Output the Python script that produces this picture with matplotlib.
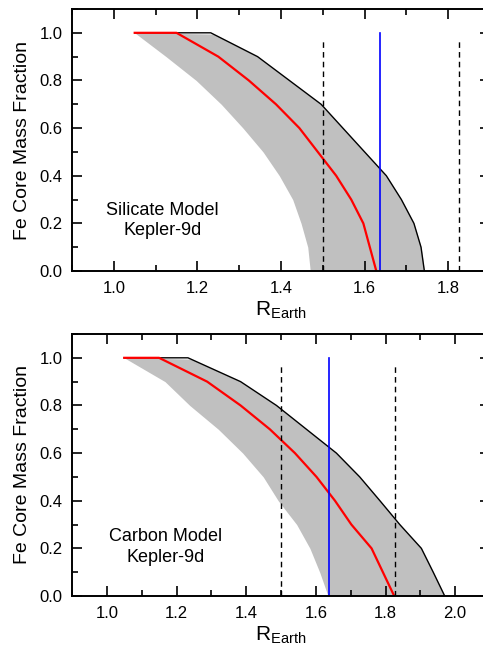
import numpy as np
import matplotlib
matplotlib.use('Agg')
import matplotlib.pyplot as plt
from matplotlib.ticker import MultipleLocator

plt.rcParams['font.family'] = ['Liberation Sans', 'DejaVu Sans']

# Fracciones de masa del núcleo de Fe
frac = [1.0, 0.9, 0.8, 0.7, 0.6, 0.5, 0.4, 0.3, 0.2, 0.1, 0.0]

# Modelo de silicato
sil_sup_r = [1.05, 1.232, 1.344, 1.42, 1.496, 1.548, 1.60, 1.652, 1.688, 1.718, 1.735, 1.743]
sil_sup_f = [1.0, 1.0, 0.9, 0.8, 0.7, 0.6, 0.5, 0.4, 0.3, 0.2, 0.1, 0.0]
sil_inf_r = [1.05, 1.125, 1.197, 1.257, 1.309, 1.357, 1.396, 1.428, 1.448, 1.464, 1.47]
sil_med_r = [1.05, 1.15, 1.25, 1.323, 1.388, 1.444, 1.488, 1.532, 1.568, 1.597, 1.628]
sil_med_f = [1.0, 1.0, 0.9, 0.8, 0.7, 0.6, 0.5, 0.4, 0.3, 0.2, 0.0]

# Modelo de carbono
car_sup_r = [1.05, 1.233, 1.384, 1.487, 1.573, 1.659, 1.726, 1.784, 1.841, 1.903, 1.937, 1.97]
car_sup_f = [1.0, 1.0, 0.9, 0.8, 0.7, 0.6, 0.5, 0.4, 0.3, 0.2, 0.1, 0.0]
car_inf_r = [1.05, 1.167, 1.238, 1.32, 1.39, 1.449, 1.492, 1.545, 1.583, 1.611, 1.635]
car_med_r = [1.05, 1.15, 1.288, 1.384, 1.468, 1.54, 1.602, 1.655, 1.702, 1.76, 1.825]
car_med_f = [1.0, 1.0, 0.9, 0.8, 0.7, 0.6, 0.5, 0.4, 0.3, 0.2, 0.0]

# Radio observado y límites
r_obs = 1.638
r_lim = [1.5, 1.826]

paneles = [
    dict(sup_r=sil_sup_r, sup_f=sil_sup_f, inf_r=sil_inf_r, med_r=sil_med_r, med_f=sil_med_f,
         xlim=(0.9, 1.9), texto='Silicate Model\nKepler-9d', tx=1.117, ty=0.212,
         rect=[72/483, 1-271/660, 418/483, 262/660]),
    dict(sup_r=car_sup_r, sup_f=car_sup_f, inf_r=car_inf_r, med_r=car_med_r, med_f=car_med_f,
         xlim=(0.9, 2.1), texto='Carbon Model\nKepler-9d', tx=1.168, ty=0.205,
         rect=[72/483, 1-596/660, 418/483, 262/660]),
]

fig = plt.figure(figsize=(4.83, 6.6), dpi=100)

for p in paneles:
    ax = fig.add_axes(p['rect'])
    # Banda gris entre curvas superior e inferior
    yy = np.linspace(0, 1, 201)
    sup = np.interp(yy, p['sup_f'][::-1], p['sup_r'][::-1])
    inf = np.interp(yy, frac[::-1], p['inf_r'][::-1])
    ax.fill_betweenx(yy, inf, sup, color='#c0c0c0', lw=0)
    ax.plot(p['sup_r'], p['sup_f'], color='black', lw=1.0)
    ax.plot(p['med_r'], p['med_f'], color='red', lw=1.6)
    ax.plot([r_obs, r_obs], [0, 1.0], color='blue', lw=1.2)
    for r in r_lim:
        ax.plot([r, r], [0, 0.98], color='black', lw=1.0, ls=(0, (4, 3)))

    ax.set_xlim(*p['xlim'])
    ax.set_ylim(0, 1.1)
    ax.xaxis.set_major_locator(MultipleLocator(0.2))
    ax.xaxis.set_minor_locator(MultipleLocator(0.1))
    ax.yaxis.set_major_locator(MultipleLocator(0.2))
    ax.yaxis.set_minor_locator(MultipleLocator(0.1))
    ax.xaxis.set_major_formatter(matplotlib.ticker.FormatStrFormatter('%.1f'))
    ax.yaxis.set_major_formatter(matplotlib.ticker.FormatStrFormatter('%.1f'))
    ax.tick_params(which='both', direction='in', top=True, right=True, labelsize=12, width=1.2)
    ax.tick_params(which='major', length=7, pad=7)
    ax.tick_params(which='minor', length=4)
    for s in ax.spines.values():
        s.set_linewidth(1.4)

    ax.text(p['tx'], p['ty'], p['texto'], ha='center', va='center', fontsize=13, linespacing=1.3)
    ax.set_ylabel('Fe Core Mass Fraction', fontsize=14, labelpad=6)
    ax.set_xlabel(r'$\mathregular{R_{Earth}}$', fontsize=15, labelpad=3)

fig.savefig('out.png', dpi=100)
